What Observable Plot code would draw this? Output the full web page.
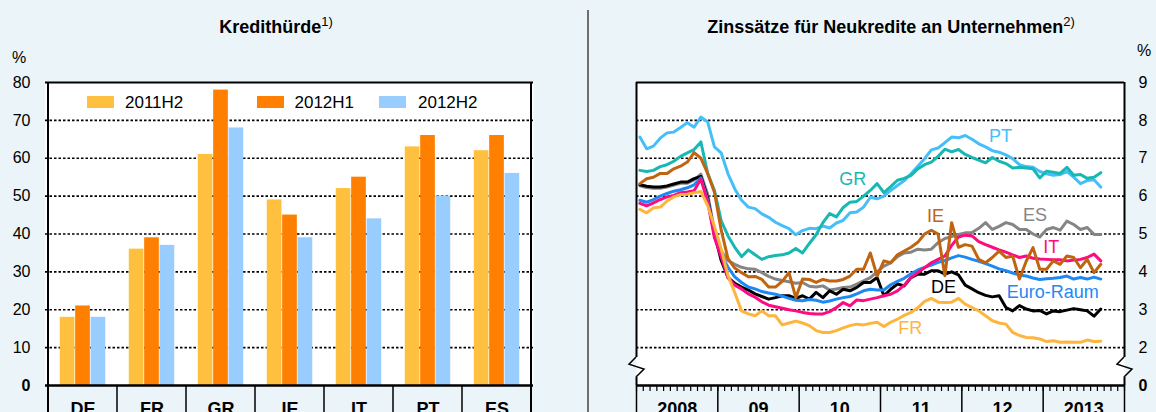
<!DOCTYPE html>
<html>
<head>
<meta charset="utf-8">
<script src="https://cdn.jsdelivr.net/npm/d3@7"></script>
<script src="https://cdn.jsdelivr.net/npm/@observablehq/plot@0.6"></script>
<style>
  html, body { margin: 0; padding: 0; }
  body { width: 1156px; height: 412px; overflow: hidden; background: #EBF4F8; position: relative;
         font-family: "Liberation Sans", Arial, Helvetica, sans-serif; color: #000; }
  .title { position: absolute; top: 17.5px; font-weight: bold; font-size: 18px; line-height: 18px;
           white-space: nowrap; transform: translateX(-50%); }
  .title sup { font-weight: normal; font-size: 13px; vertical-align: 7px; line-height: 0; }
  .unit { position: absolute; font-size: 16px; line-height: 16px; }
  .sw { position: absolute; width: 27px; height: 12px; top: 96px; }
  .lt { position: absolute; font-size: 17px; line-height: 17px; top: 93.6px; white-space: nowrap; }
  .chart { position: absolute; top: 40px; }
  #sep { position: absolute; left: 587px; top: 10px; width: 1.5px; height: 402px; background: #6e6e6e; }
</style>
</head>
<body>
<div class="title" style="left:276px">Kredithürde<sup>1)</sup></div>
<div class="title" style="left:891px">Zinssätze für Neukredite an Unternehmen<sup>2)</sup></div>
<div class="unit" style="left:12px; top:49.5px">%</div>
<div class="unit" style="left:1137px; top:42.5px">%</div>
<div id="left" class="chart" style="left:0px"></div>
<div id="right" class="chart" style="left:588px"></div>
<div id="legend"></div>
<div id="sep"></div>
<script>
const FONT = '"Liberation Sans", Arial, Helvetica, sans-serif';

// ---------- Left panel: Kredithürde ----------
const countries = ["DE", "FR", "GR", "IE", "IT", "PT", "ES"];
const periods = ["2011H2", "2012H1", "2012H2"];
const v2011H2 = [18, 36, 61, 49, 52, 63, 62];
const v2012H1 = [21, 39, 78, 45, 55, 66, 66];
const v2012H2 = [18, 37, 68, 39, 44, 50, 56];
const barColors = ["#FFC040", "#FF8000", "#99CCFF"];
const barTicks = [10, 20, 30, 40, 50, 60, 70, 80];

// ---------- Right panel: Zinssätze (monthly, Jan 2008 - Sep 2013) ----------
const yearLabels = ["2008", "09", "10", "11", "12", "2013"];
const rateTicks = [2, 3, 4, 5, 6, 7, 8, 9];
const PT = [7.56,7.25,7.32,7.53,7.67,7.69,7.81,7.94,7.82,8.09,
            7.96,7.30,7.14,6.59,6.19,5.89,5.71,5.67,5.53,5.44,
            5.31,5.22,5.14,4.98,5.09,5.15,5.14,5.21,5.16,5.29,
            5.36,5.56,5.58,5.71,5.97,5.93,6.00,6.15,6.28,6.41,
            6.59,6.79,6.99,7.22,7.27,7.41,7.56,7.54,7.60,7.50,
            7.38,7.30,7.20,7.16,7.09,6.99,6.83,6.78,6.76,6.65,
            6.59,6.55,6.57,6.65,6.50,6.33,6.41,6.43,6.24];
const GR = [6.68,6.65,6.68,6.78,6.83,6.92,7.05,7.14,7.23,7.43,
            6.60,6.15,5.35,4.95,4.65,4.40,4.58,4.45,4.33,4.40,
            4.43,4.45,4.50,4.62,4.50,4.75,4.98,5.30,5.54,5.45,
            5.70,5.84,5.86,6.00,6.15,6.33,6.09,6.25,6.42,6.47,
            6.55,6.72,6.83,6.90,7.05,7.24,7.17,7.23,7.10,7.02,
            6.95,6.88,7.02,6.92,6.86,6.74,6.76,6.74,6.72,6.48,
            6.66,6.63,6.60,6.76,6.55,6.57,6.47,6.50,6.62];
const ES = [6.27,6.23,6.21,6.21,6.24,6.29,6.34,6.34,6.43,6.58,
            6.05,5.10,4.55,4.30,4.20,4.12,4.08,4.07,3.98,3.88,
            3.81,3.77,3.74,3.70,3.72,3.62,3.60,3.63,3.52,3.55,
            3.59,3.60,3.68,3.76,3.85,4.00,4.15,4.24,4.40,4.50,
            4.52,4.60,4.58,4.60,4.77,4.88,4.93,4.99,5.03,5.04,
            5.15,5.30,5.12,5.20,5.30,5.25,5.12,5.12,5.00,4.92,
            5.12,5.17,5.10,5.34,5.25,5.12,5.17,4.99,4.99];
const IE = [6.33,6.46,6.50,6.60,6.60,6.72,6.79,6.90,7.15,7.00,
            6.60,6.10,5.10,4.35,4.10,3.98,3.87,3.88,3.80,3.60,
            3.60,3.75,3.98,3.32,3.81,3.80,3.72,3.80,3.76,3.76,
            3.80,3.89,4.07,4.07,4.50,3.89,4.29,4.24,4.45,4.55,
            4.65,4.78,5.00,5.10,5.00,3.90,5.30,4.65,4.72,4.68,
            4.33,4.24,4.38,4.55,4.38,4.42,3.81,4.28,4.64,4.07,
            4.07,4.29,4.20,4.42,4.38,4.11,4.33,3.98,4.20];
const IT = [5.81,5.74,5.82,5.91,5.98,6.02,6.09,6.11,6.14,6.45,
            5.85,4.90,4.40,3.85,3.65,3.55,3.42,3.33,3.21,3.12,
            3.08,3.04,3.00,2.97,2.93,2.90,2.89,2.89,2.95,3.06,
            3.19,3.10,3.26,3.24,3.28,3.32,3.37,3.41,3.50,3.65,
            3.85,3.98,4.11,4.24,4.33,4.42,4.70,4.92,4.97,4.95,
            4.80,4.72,4.65,4.58,4.52,4.45,4.38,4.42,4.36,4.34,
            4.33,4.32,4.32,4.29,4.31,4.33,4.38,4.47,4.29];
const EA = [5.89,5.84,5.91,6.00,6.07,6.13,6.17,6.22,6.30,6.48,
            5.90,5.00,4.45,4.12,3.87,3.72,3.60,3.55,3.48,3.44,
            3.41,3.36,3.30,3.25,3.24,3.27,3.25,3.20,3.23,3.28,
            3.32,3.35,3.42,3.50,3.54,3.52,3.52,3.66,3.75,3.83,
            3.95,4.05,4.12,4.18,4.25,4.30,4.37,4.43,4.39,4.33,
            4.28,4.22,4.15,4.08,4.03,3.97,3.92,3.89,3.84,3.80,
            3.82,3.83,3.85,3.89,3.81,3.85,3.81,3.86,3.81];
const DE = [6.30,6.26,6.24,6.24,6.27,6.32,6.37,6.37,6.46,6.52,
            5.95,5.00,4.30,3.85,3.70,3.60,3.52,3.42,3.35,3.28,
            3.32,3.37,3.37,3.30,3.37,3.28,3.46,3.32,3.50,3.41,
            3.54,3.50,3.59,3.72,3.72,3.85,3.37,3.54,3.68,3.63,
            3.85,3.94,3.94,4.03,4.03,3.94,4.00,3.92,3.65,3.55,
            3.45,3.38,3.34,3.37,3.06,2.97,3.11,3.02,2.97,2.98,
            2.89,2.97,2.95,2.99,3.03,3.00,2.97,2.83,3.02];
const FR = [5.65,5.56,5.69,5.71,5.87,5.98,6.04,6.05,6.09,6.12,
            5.75,5.20,4.60,3.90,3.45,2.97,2.89,2.84,2.97,2.84,
            2.84,2.60,2.65,2.70,2.65,2.58,2.45,2.40,2.40,2.45,
            2.52,2.58,2.62,2.60,2.64,2.67,2.56,2.67,2.75,2.85,
            2.93,3.05,3.22,3.30,3.20,3.19,3.20,3.30,3.15,3.06,
            2.97,2.84,2.71,2.65,2.62,2.40,2.32,2.27,2.26,2.23,
            2.16,2.18,2.14,2.15,2.14,2.14,2.20,2.16,2.17];
const seriesNames = ["PT", "GR", "ES", "DE", "Euro-Raum", "IT", "FR", "IE"];
const seriesValues = [PT, GR, ES, DE, EA, IT, FR, IE];
const seriesColors = ["#45BEFA", "#17B8B2", "#858585", "#000000", "#1E88F5", "#FF0A80", "#FFB43C", "#C0640F"];
// label anchor: month position and value
const labelNames = ["PT", "GR", "IE", "ES", "IT", "DE", "Euro-Raum", "FR"];
const labelMonth = [53.7, 31.9, 44.1, 58.8, 61.2, 45.3, 61.4, 40.4];
const labelValue = [7.58, 6.45, 5.47, 5.50, 4.66, 3.60, 3.45, 2.50];

// ---------- build tables ----------
const barValues = [v2011H2, v2012H1, v2012H2];
const barRows = [];
periods.forEach((p, j) => countries.forEach((c, i) => barRows.push({country: c, period: p, value: barValues[j][i]})));

const lineRows = [];
seriesNames.forEach((s, j) => seriesValues[j].forEach((v, k) => lineRows.push({series: s, m: k + 0.5, v})));
const labelRows = labelNames.map((n, i) => ({name: n, m: labelMonth[i], v: labelValue[i]}));

// ---------- left chart ----------
const W1 = 588, H = 372, ML1 = 45, MR1 = 55, MT = 42, MB = 27;
const bandW = (W1 - ML1 - MR1) / countries.length;
const barW = 15.4;
const inset = (bandW - barW) / 2;

function categoryBoxes(index, scales, values, dims) {
  const x = scales.x;
  const bw = typeof x.bandwidth === "function" ? x.bandwidth() : scales.scales.x.bandwidth;
  const g = d3.create("svg:g");
  const yb = dims.height - dims.marginBottom;
  countries.forEach((c, i) => {
    const e = x(c);
    g.append("line").attr("x1", e).attr("x2", e)
      .attr("y1", i === 0 ? dims.marginTop : yb).attr("y2", dims.height)
      .attr("stroke", "#000").attr("stroke-width", i === 0 ? 2 : 1.5);
  });
  const end = x(countries[countries.length - 1]) + bw;
  g.append("line").attr("x1", end).attr("x2", end).attr("y1", dims.marginTop).attr("y2", dims.height)
    .attr("stroke", "#000").attr("stroke-width", 2);
  return g.node();
}

const leftPlot = Plot.plot({
  width: W1, height: H, marginLeft: ML1, marginRight: MR1, marginTop: MT, marginBottom: MB,
  style: {background: "transparent", fontFamily: FONT, fontSize: "16px", color: "#000"},
  x: {domain: countries, padding: 0, axis: null, label: null},
  y: {domain: [0, 80], axis: null, label: null},
  marks: [
    Plot.frame({fill: "white", stroke: "none"}),
    Plot.gridY(d3.range(10, 80, 10), {stroke: "#000", strokeOpacity: 1, strokeWidth: 1.6, strokeDasharray: "2.5,2"}),
    ...periods.map((p, j) => Plot.barY(barRows.filter(d => d.period === p), {
      x: "country", y: "value", fill: barColors[j], insetLeft: inset, insetRight: inset, dx: (j - 1) * barW
    })),
    Plot.ruleY([0], {stroke: "#000", strokeWidth: 2.5}),
    Plot.ruleY([80], {stroke: "#000", strokeWidth: 2}),
    categoryBoxes,
    Plot.axisY(barTicks, {anchor: "left", tickSize: 0, tickPadding: 15, fontSize: 16}),
    Plot.axisY([0], {anchor: "left", tickSize: 0, tickPadding: 15, fontSize: 16, fontWeight: "bold"}),
    Plot.axisX({anchor: "bottom", tickSize: 0, tickPadding: 17, fontSize: 18, fontWeight: "bold"})
  ]
});
document.getElementById("left").append(leftPlot);

// legend
const legend = document.getElementById("legend");
const swX = [87, 257, 378.5], txX = [125, 294.5, 418];
periods.forEach((p, j) => {
  const s = document.createElement("div");
  s.className = "sw"; s.style.left = swX[j] + "px"; s.style.background = barColors[j];
  legend.append(s);
  const t = document.createElement("div");
  t.className = "lt"; t.style.left = txX[j] + "px"; t.textContent = p;
  legend.append(t);
});

// ---------- right chart ----------
const W2 = 568, ML2 = 48, MR2 = 32;
function breakMark(at) {
  return (index, scales) => {
    const X = scales.x(at), y = scales.y;
    const pts = [[X, y(1.74)], [X - 7, y(1.55)], [X + 8, y(1.42)], [X, y(1.21)]];
    return d3.create("svg:path").attr("d", d3.line()(pts)).attr("fill", "none")
      .attr("stroke", "#000").attr("stroke-width", 1.5).node();
  };
}
const rightPlot = Plot.plot({
  width: W2, height: H, marginLeft: ML2, marginRight: MR2, marginTop: MT, marginBottom: MB,
  style: {background: "transparent", fontFamily: FONT, fontSize: "16px", color: "#000"},
  x: {domain: [0, 72], axis: null, label: null},
  y: {domain: [1, 9], axis: null, label: null},
  color: {domain: seriesNames, range: seriesColors},
  marks: [
    Plot.frame({fill: "white", stroke: "none"}),
    Plot.gridY([2, 3, 4, 5, 6, 7, 8], {stroke: "#000", strokeOpacity: 1, strokeWidth: 1.6, strokeDasharray: "2.5,2"}),
    Plot.line(lineRows, {x: "m", y: "v", z: "series", stroke: "series", strokeWidth: 3}),
    Plot.text(labelRows, {x: "m", y: "v", text: "name", fill: "name", fontSize: 18, textAnchor: "middle", lineAnchor: "middle"}),
    Plot.ruleY([1], {stroke: "#000", strokeWidth: 2.5}),
    Plot.ruleY([9], {stroke: "#000", strokeWidth: 2}),
    Plot.ruleX([0, 72], {y1: 1, y2: 1.21, stroke: "#000", strokeWidth: 2}),
    Plot.ruleX([0, 72], {y1: 1.74, y2: 9, stroke: "#000", strokeWidth: 2}),
    breakMark(0),
    breakMark(72),
    Plot.axisX(d3.range(0, 73), {anchor: "bottom", tickSize: 6, strokeWidth: 1.2, tickFormat: () => ""}),
    Plot.axisX(d3.range(0, 73, 12), {anchor: "bottom", tickSize: 27, strokeWidth: 1.5, tickFormat: () => ""}),
    Plot.axisX(d3.range(6, 72, 12), {anchor: "bottom", tickSize: 0, tickPadding: 17, fontSize: 18, fontWeight: "bold",
      tickFormat: d => yearLabels[(d - 6) / 12]}),
    Plot.axisY(rateTicks, {anchor: "right", tickSize: 0, tickPadding: 14, fontSize: 16}),
    Plot.axisY([1], {anchor: "right", tickSize: 0, tickPadding: 14, fontSize: 16, fontWeight: "bold", tickFormat: () => "0"})
  ]
});
document.getElementById("right").append(rightPlot);
</script>
</body>
</html>
